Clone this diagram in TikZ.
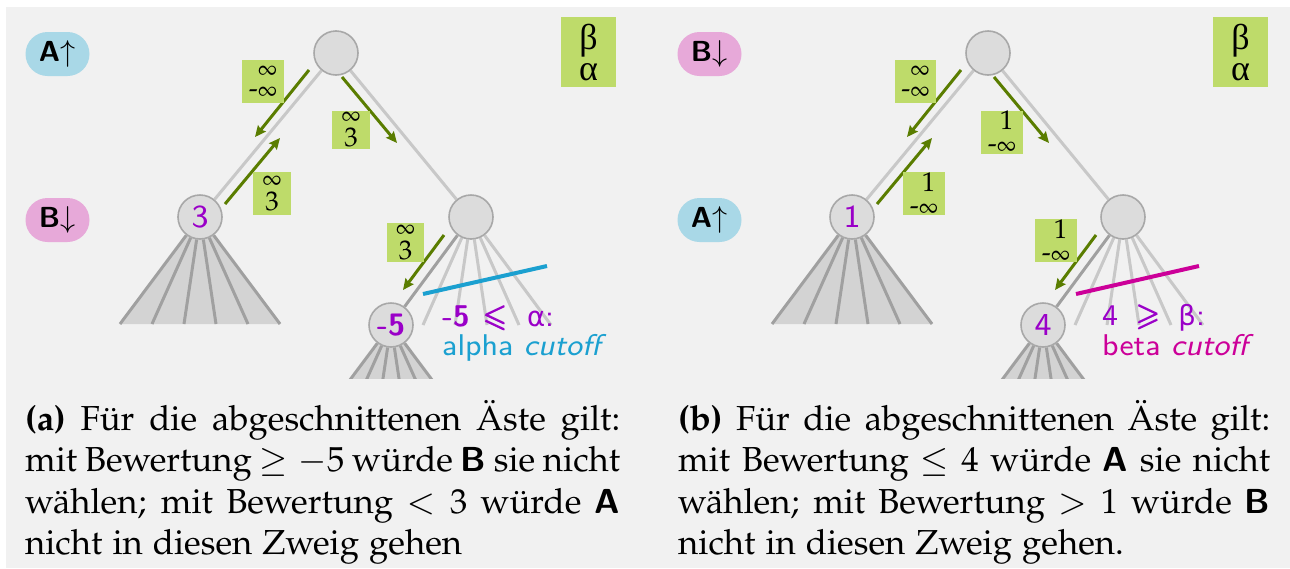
\documentclass[tikz,border=0pt]{standalone}
\usepackage[T1]{fontenc}
\usepackage{mathpazo}
\usepackage{amsmath}
\usepackage{amssymb}
\usepackage{calc}
\usepackage{fontspec}
\renewcommand{\rmdefault}{lmr}
\newfontfamily\smsans{lmsans8-regular}[Extension=.otf,
  ItalicFont=lmsans8-oblique, BoldFont=lmsans10-bold,
  BoldItalicFont=lmsans10-boldoblique]
\newfontfamily\sansgreek[Scale=0.92]{DejaVu Sans}
\newfontfamily\greekserif{Liberation Serif}
% Palatino text (Type 1, T1 encoding) for captions and box labels
\newcommand{\pal}{\fontencoding{T1}\fontfamily{pplx}\selectfont}
% bold sans letter inside Palatino text
\newcommand{\sfB}[1]{{\fontencoding{TU}\sffamily\bfseries #1}}
% small infinity used in the bound boxes
\newcommand{\sinf}{{\fontsize{22}{22}\selectfont$\infty$}}
\usetikzlibrary{arrows.meta}

\definecolor{panelbg}{HTML}{F1F1F1}
\definecolor{pillblue}{HTML}{A9D8E7}
\definecolor{pillpink}{HTML}{E7A9D9}
\definecolor{boxgreen}{HTML}{BEDB6A}
\definecolor{arrowgreen}{HTML}{5A7D00}
\definecolor{nodefill}{HTML}{DCDCDC}
\definecolor{nodeline}{HTML}{A8A8A8}
\definecolor{fanfill}{HTML}{D3D3D3}
\definecolor{fanline}{HTML}{A0A0A0}
\definecolor{cutedge}{HTML}{C8C8C8}
\definecolor{valpurple}{HTML}{9A00C8}
\definecolor{alphacyan}{HTML}{1BA0D0}
\definecolor{betamag}{HTML}{CC0099}

\pgfdeclarelayer{back}
\pgfdeclarelayer{tree}
\pgfsetlayers{back,tree,main}

\tikzset{
  tnode/.style={circle, draw=nodeline, fill=nodefill, line width=1.6pt,
    minimum size=44pt, inner sep=0pt, text=valpurple,
    font=\smsans\fontsize{32}{32}\selectfont},
  pill/.style={rectangle, rounded corners=22pt, minimum width=64pt,
    minimum height=44pt, inner sep=0pt,
    font=\smsans\bfseries\fontsize{29}{29}\selectfont},
  abbox/.style={rectangle, fill=boxgreen, inner xsep=6.5pt, inner ysep=0pt,
    minimum height=43pt, align=center, font=\pal\fontsize{27}{21}\selectfont},
  onebox/.style={abbox, font=\pal\fontsize{27}{23}\selectfont},
  digbox/.style={abbox, inner xsep=9pt, font=\pal\fontsize{27}{24}\selectfont},
  greek/.style={rectangle, fill=boxgreen, minimum width=55pt,
    minimum height=70pt, inner sep=0pt, align=center,
    font=\greekserif\fontsize{36}{31}\selectfont},
  trail/.style={draw=arrowgreen, line width=3pt,
    -{Stealth[length=11pt, width=10pt, inset=1.5pt]}},
  fan/.style={draw=fanline, line width=3pt},
  branch/.style={draw=cutedge, line width=3pt},
  cutline/.style={line width=4pt},
  caption/.style={anchor=base west, inner sep=0pt, align=justify,
    font=\pal\fontsize{34.7}{41.6}\selectfont},
  cuttext/.style={anchor=base west, inner sep=0pt,
    font=\smsans\fontsize{30}{30}\selectfont},
}

\begin{document}
\begin{tikzpicture}[x=1pt, y=-1pt]
\useasboundingbox (0,0) rectangle (1290,568);
\begin{pgfonlayer}{back}
  \fill[white] (0,0) rectangle (1290,568);
  \fill[panelbg] (6,7) rectangle (1290,568);
\end{pgfonlayer}

% ---------------- panel (a): alpha cutoff ----------------
\node[pill, fill=pillblue] (aTop) at (57.5,54) {A$\uparrow$};
\node[pill, fill=pillpink] (aBot) at (57.5,220) {B$\downarrow$};
\node[greek] (aKey) at (588.5,52) {β\\α};

\node[tnode] (aR) at (336,53) {};
\node[tnode] (aL) at (200,217) {3};
\node[tnode] (aM) at (471,217) {};
\node[tnode, font=\smsans\bfseries\fontsize{31}{31}\selectfont] (aX) at (391,325) {-5};

\foreach \x [count=\i] in {120,152,184,216,248,280} \coordinate (aFan\i) at (\x,324);
\foreach \x [count=\i] in {423,455,487,519,551} \coordinate (aCut\i) at (\x,325);
\foreach \x [count=\i] in {311,343,375,407,439,471} \coordinate (aLeaf\i) at (\x,432);

\begin{pgfonlayer}{tree}
  \fill[fanfill] (aL.center) -- (aFan1) -- (aFan6) -- cycle;
  \foreach \i in {1,...,6} \draw[fan] (aL) -- (aFan\i);
  \draw[branch] (aR) -- (aL);
  \draw[branch] (aR) -- (aM);
  \foreach \i in {1,...,5} \draw[branch] (aM) -- (aCut\i);
  \draw[fan] (aM) -- (aX);
  \begin{scope}
    \clip (0,0) rectangle (1290,378);
    \fill[fanfill] (aX.center) -- (aLeaf1) -- (aLeaf6) -- cycle;
    \foreach \i in {1,...,6} \draw[fan] (aX) -- (aLeaf\i);
  \end{scope}
\end{pgfonlayer}

\coordinate (aS1) at (309,70);  \coordinate (aE1) at (255,137);
\coordinate (aS2) at (225,204); \coordinate (aE2) at (280,138);
\coordinate (aS3) at (342,77);  \coordinate (aE3) at (397,143);
\coordinate (aS4) at (444,235); \coordinate (aE4) at (403,290);
\draw[trail] (aS1) -- (aE1);
\draw[trail] (aS2) -- (aE2);
\draw[trail] (aS3) -- (aE3);
\draw[trail] (aS4) -- (aE4);

\node[abbox] (aW1) at (263,81.5) {\hphantom{-}\sinf\\-\sinf};
\node[digbox, minimum height=38pt] (aW2) at (351,130) {\sinf\\$3$};
\node[digbox] (aW3) at (272,193.5) {\sinf\\$3$};
\node[digbox, minimum height=39pt] (aW4) at (405.5,242.5) {\sinf\\$3$};

\coordinate (aK1) at (423,294); \coordinate (aK2) at (547,266);
\draw[cutline, alphacyan] (aK1) -- (aK2);
\node[cuttext, text=valpurple] (aCond) at (442,326)
  {{\bfseries -5\hspace{0.45em}\pmb{$\leqslant$}}\hspace{0.65em}{\sansgreek α}:};
\node[cuttext, text=alphacyan] (aNote) at (442,355) {alpha \textit{cutoff}};

\node[caption, text width=595pt] (aCap) at (25,430)
  {\textbf{(a)} F\"ur die abgeschnittenen \"Aste gilt:\linebreak
   mit Bewertung $\geq -5$ w\"urde \sfB{B} sie nicht\linebreak
   w\"ahlen; mit Bewertung $<3$ w\"urde \sfB{A}\linebreak
   nicht in diesen Zweig gehen};

% ---------------- panel (b): beta cutoff ----------------
\node[pill, fill=pillpink] (bTop) at (709.5,54) {B$\downarrow$};
\node[pill, fill=pillblue] (bBot) at (709.5,220) {A$\uparrow$};
\node[greek] (bKey) at (1240.5,52) {β\\α};

\node[tnode] (bR) at (988,53) {};
\node[tnode] (bL) at (852,217) {1};
\node[tnode] (bM) at (1123,217) {};
\node[tnode] (bX) at (1043,325) {4};

\foreach \x [count=\i] in {772,804,836,868,900,932} \coordinate (bFan\i) at (\x,324);
\foreach \x [count=\i] in {1075,1107,1139,1171,1203} \coordinate (bCut\i) at (\x,325);
\foreach \x [count=\i] in {963,995,1027,1059,1091,1123} \coordinate (bLeaf\i) at (\x,432);

\begin{pgfonlayer}{tree}
  \fill[fanfill] (bL.center) -- (bFan1) -- (bFan6) -- cycle;
  \foreach \i in {1,...,6} \draw[fan] (bL) -- (bFan\i);
  \draw[branch] (bR) -- (bL);
  \draw[branch] (bR) -- (bM);
  \foreach \i in {1,...,5} \draw[branch] (bM) -- (bCut\i);
  \draw[fan] (bM) -- (bX);
  \begin{scope}
    \clip (0,0) rectangle (1290,378);
    \fill[fanfill] (bX.center) -- (bLeaf1) -- (bLeaf6) -- cycle;
    \foreach \i in {1,...,6} \draw[fan] (bX) -- (bLeaf\i);
  \end{scope}
\end{pgfonlayer}

\coordinate (bS1) at (961,70);   \coordinate (bE1) at (907,137);
\coordinate (bS2) at (877,204);  \coordinate (bE2) at (932,138);
\coordinate (bS3) at (994,77);   \coordinate (bE3) at (1049,143);
\coordinate (bS4) at (1096,235); \coordinate (bE4) at (1055,290);
\draw[trail] (bS1) -- (bE1);
\draw[trail] (bS2) -- (bE2);
\draw[trail] (bS3) -- (bE3);
\draw[trail] (bS4) -- (bE4);

\node[abbox] (bW1) at (915.5,81.5) {\hphantom{-}\sinf\\-\sinf};
\node[onebox] (bW2) at (1002,132) {\hphantom{-}\makebox[\widthof{\sinf}]{$1$}\\-\sinf};
\node[onebox] (bW3) at (924,193.5) {\hphantom{-}\makebox[\widthof{\sinf}]{$1$}\\-\sinf};
\node[onebox] (bW4) at (1056,240.5) {\hphantom{-}\makebox[\widthof{\sinf}]{$1$}\\-\sinf};

\coordinate (bK1) at (1076,294); \coordinate (bK2) at (1199,266);
\draw[cutline, betamag] (bK1) -- (bK2);
\node[cuttext, text=valpurple] (bCond) at (1102,325)
  {4\hspace{0.6em}\pmb{$\geqslant$}\hspace{0.6em}{\sansgreek β}:};
\node[cuttext, text=betamag] (bNote) at (1102,355) {beta \textit{cutoff}};

\node[caption, text width=592pt] (bCap) at (678,430)
  {\textbf{(b)} F\"ur die abgeschnittenen \"Aste gilt:\linebreak
   mit Bewertung $\leq 4$ w\"urde \sfB{A} sie nicht\linebreak
   w\"ahlen; mit Bewertung $>1$ w\"urde \sfB{B}\linebreak
   nicht in diesen Zweig gehen.};
\end{tikzpicture}
\end{document}
